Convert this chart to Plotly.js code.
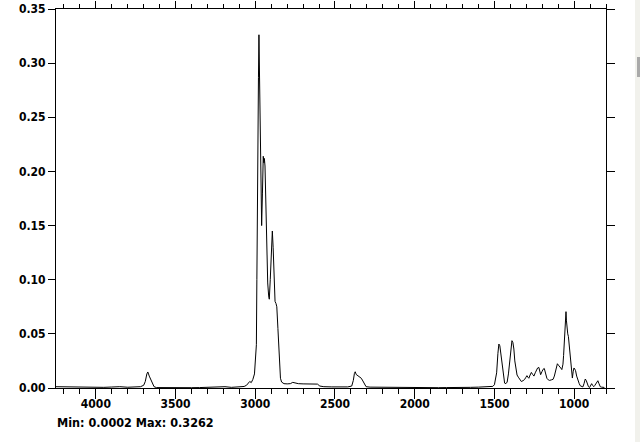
<!DOCTYPE html>
<html>
<head>
<meta charset="utf-8">
<script src="https://cdn.plot.ly/plotly-3.0.1.min.js"></script>
<style>
  html, body { margin: 0; padding: 0; background: #ffffff; }
  #chart { width: 640px; height: 442px; position: relative; }
  #strip { position: absolute; left: 635px; top: 0; width: 5px; height: 442px; background: #f1f1ec; }
  #thumb { position: absolute; left: 637px; top: 57px; width: 3px; height: 20px; background: #a9a9a9; }
</style>
</head>
<body>
<div id="chart"></div>
<div id="strip"></div>
<div id="thumb"></div>
<script>
// Wavenumber (cm-1)
const wavenumber = [
  4250, 4200, 4150, 4100, 4050, 4000, 3950, 3900, 3850, 3800, 3750, 3720,
  3700, 3690, 3680, 3674, 3665, 3655, 3645, 3635, 3620,
  3550, 3500, 3450, 3400, 3350, 3300, 3250, 3210, 3200, 3190, 3150, 3100,
  3070, 3055, 3045, 3035, 3025, 3015, 3005, 2998, 2993, 2990, 2988, 2985,
  2983, 2980, 2977, 2974, 2970, 2967, 2963, 2960, 2955, 2950, 2946, 2943,
  2939, 2934, 2928, 2922, 2916, 2912, 2906, 2900, 2893, 2888, 2882, 2876,
  2870, 2865, 2858, 2852, 2847, 2842, 2835, 2820, 2800, 2780, 2765, 2750,
  2730, 2700, 2650, 2610, 2595, 2570, 2520, 2470, 2420,
  2395, 2385, 2378, 2373, 2367, 2360, 2352, 2345, 2335, 2325, 2315, 2305,
  2280, 2200, 2100, 2050, 2000, 1950, 1900, 1850, 1800, 1750, 1700, 1650,
  1600, 1560, 1530, 1510, 1500, 1492, 1486, 1478, 1472, 1466, 1460, 1454,
  1448, 1442, 1436, 1428, 1420, 1412, 1405, 1398, 1390, 1384, 1378, 1372,
  1366, 1358, 1350, 1340, 1331, 1320, 1311, 1304, 1296, 1290, 1284, 1276,
  1268, 1260, 1252, 1244, 1237, 1229, 1221, 1215, 1210, 1202, 1195, 1187,
  1179, 1171, 1162, 1154, 1143, 1132, 1124, 1118, 1110, 1105, 1098, 1091,
  1084, 1077, 1070, 1066, 1062, 1058, 1054, 1051, 1048, 1045, 1040, 1036,
  1030, 1024, 1018, 1011, 1006, 1001, 996, 991, 984, 976, 968, 961,
  953, 945, 938, 930, 924, 917, 910, 903, 897, 890, 884, 877,
  871, 865, 858, 851, 844, 836, 828, 819, 810
];
// Absorbance
const absorbance = [
  0.0012, 0.0010, 0.0012, 0.0011, 0.0010, 0.0008, 0.0006, 0.0009, 0.0012, 0.0007, 0.0010, 0.0012,
  0.0025, 0.0060, 0.0130, 0.0148, 0.0110, 0.0075, 0.0040, 0.0012, 0.0004,
  0.0002, 0.0003, 0.0002, 0.0003, 0.0004, 0.0006, 0.0007, 0.0015, 0.0016, 0.0012, 0.0006, 0.0008,
  0.0014, 0.0025, 0.0045, 0.0060, 0.0050, 0.0080, 0.0130, 0.0260, 0.0400, 0.1000, 0.1550, 0.2200,
  0.2850, 0.2870, 0.3262, 0.2900, 0.2850, 0.2200, 0.1600, 0.1500, 0.1800, 0.2140, 0.2080, 0.2120,
  0.2050, 0.1750, 0.1200, 0.0970, 0.0850, 0.0820, 0.1000, 0.1250, 0.1450, 0.1300, 0.1000, 0.0800,
  0.0780, 0.0750, 0.0550, 0.0350, 0.0180, 0.0090, 0.0055, 0.0040, 0.0038, 0.0040, 0.0052, 0.0046,
  0.0040, 0.0038, 0.0037, 0.0036, 0.0018, 0.0012, 0.0010, 0.0011, 0.0010,
  0.0018, 0.0070, 0.0135, 0.0150, 0.0125, 0.0118, 0.0112, 0.0105, 0.0090, 0.0065, 0.0030, 0.0012,
  0.0008, 0.0006, 0.0005, 0.0007, 0.0004, 0.0003, 0.0004, 0.0003, 0.0004, 0.0003, 0.0005, 0.0006,
  0.0008, 0.0012, 0.0010, 0.0015, 0.0030, 0.0080, 0.0140, 0.0320, 0.0406, 0.0390, 0.0320, 0.0230,
  0.0150, 0.0070, 0.0045, 0.0040, 0.0055, 0.0130, 0.0250, 0.0380, 0.0437, 0.0420, 0.0360, 0.0250,
  0.0170, 0.0120, 0.0100, 0.0075, 0.0060, 0.0068, 0.0078, 0.0095, 0.0114, 0.0100, 0.0090, 0.0120,
  0.0144, 0.0125, 0.0110, 0.0140, 0.0163, 0.0185, 0.0190, 0.0150, 0.0123, 0.0150, 0.0172, 0.0180,
  0.0140, 0.0090, 0.0075, 0.0070, 0.0075, 0.0080, 0.0110, 0.0140, 0.0200, 0.0224, 0.0210, 0.0200,
  0.0185, 0.0170, 0.0220, 0.0300, 0.0450, 0.0580, 0.0660, 0.0705, 0.0620, 0.0540, 0.0500, 0.0477,
  0.0380, 0.0260, 0.0150, 0.0092, 0.0150, 0.0185, 0.0175, 0.0160, 0.0110, 0.0070, 0.0040, 0.0020,
  0.0012, 0.0010, 0.0040, 0.0083, 0.0070, 0.0030, 0.0012, 0.0005, 0.0020, 0.0040, 0.0025, 0.0012,
  0.0022, 0.0035, 0.0045, 0.0067, 0.0040, 0.0012, 0.0008, 0.0006, 0.0005
];
const xRange = [4250, 800];
const yRange = [0, 0.35];
const statsText = "Min: 0.0002 Max: 0.3262";

const fontFam = '"DejaVu Sans Condensed", "Liberation Sans", sans-serif';
const tickFont = { family: fontFam, size: 12, color: '#000000', weight: 'bold' };

const traces = [{
  x: wavenumber, y: absorbance, type: 'scatter', mode: 'lines',
  line: { color: '#000000', width: 1 }, hoverinfo: 'skip', showlegend: false
}, {
  x: wavenumber, y: absorbance, xaxis: 'x2', yaxis: 'y2', type: 'scatter', mode: 'lines',
  line: { color: 'rgba(0,0,0,0)', width: 0 }, hoverinfo: 'skip', showlegend: false
}];

const layout = {
  width: 640, height: 442,
  margin: { l: 56, r: 34, t: 9, b: 54, pad: 0 },
  paper_bgcolor: '#ffffff', plot_bgcolor: '#ffffff',
  showlegend: false,
  xaxis: {
    range: xRange, tick0: 0, dtick: 500, ticks: 'outside', ticklen: 10,
    tickcolor: '#000', tickwidth: 1, showline: true, linecolor: '#000', linewidth: 1,
    showgrid: false, zeroline: false, tickfont: tickFont, ticklabelstandoff: -5,
    minor: { dtick: 100, ticks: 'outside', ticklen: 5, tickcolor: '#000', tickwidth: 1, showgrid: false }
  },
  xaxis2: {
    overlaying: 'x', matches: 'x', side: 'top', anchor: 'y',
    range: xRange, tick0: 0, dtick: 500, ticks: 'outside', ticklen: 7,
    tickcolor: '#000', tickwidth: 1, showline: true, linecolor: '#000', linewidth: 1,
    showgrid: false, zeroline: false, showticklabels: false,
    minor: { dtick: 100, ticks: 'outside', ticklen: 4, tickcolor: '#000', tickwidth: 1, showgrid: false }
  },
  yaxis: {
    range: yRange, tick0: 0, dtick: 0.05, tickformat: '.2f', ticks: 'outside', ticklen: 7,
    tickcolor: '#000', tickwidth: 1, showline: true, linecolor: '#000', linewidth: 1,
    showgrid: false, zeroline: false, tickfont: tickFont
  },
  yaxis2: {
    overlaying: 'y', matches: 'y', side: 'right', anchor: 'x',
    range: yRange, tick0: 0, dtick: 0.05, ticks: 'outside', ticklen: 8,
    tickcolor: '#000', tickwidth: 1, showline: true, linecolor: '#000', linewidth: 1,
    showgrid: false, zeroline: false, showticklabels: false
  },
  annotations: [{
    text: statsText, xref: 'paper', yref: 'paper', x: 0, y: 0,
    xanchor: 'left', yanchor: 'middle', xshift: -1, yshift: -34, showarrow: false,
    font: { family: fontFam, size: 12.5, color: '#000000', weight: 'bold' }
  }]
};

Plotly.newPlot('chart', traces, layout, { staticPlot: true, displayModeBar: false });
</script>
</body>
</html>
